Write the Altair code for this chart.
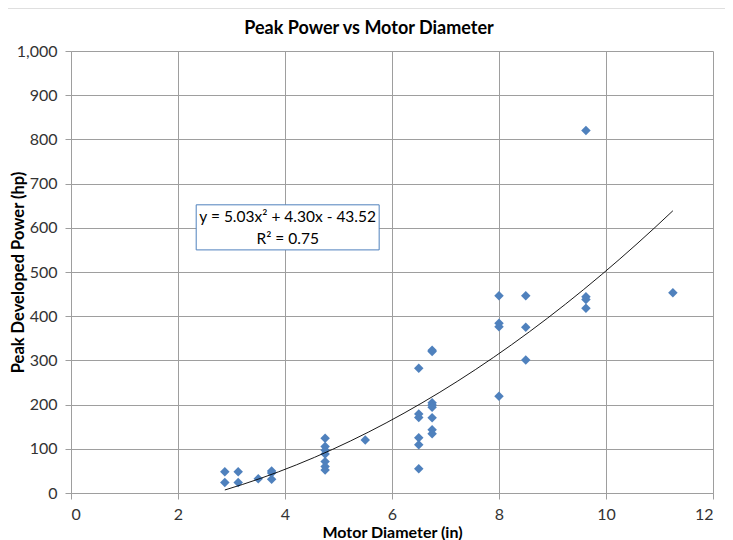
import altair as alt
import pandas as pd

# Motor diameter (in) and peak developed power (hp)
diam = [2.875, 2.875, 3.125, 3.125, 3.5, 3.75, 3.75, 3.75,
        4.75, 4.75, 4.75, 4.75, 4.75, 4.75, 4.75, 5.5,
        6.5, 6.5, 6.5, 6.5, 6.5, 6.5,
        6.75, 6.75, 6.75, 6.75, 6.75, 6.75, 6.75, 6.75,
        8.0, 8.0, 8.0, 8.0,
        8.5, 8.5, 8.5,
        9.625, 9.625, 9.625, 9.625, 11.25]
power = [48, 24, 48, 24, 32, 50, 45, 31,
         124, 105, 97, 88, 71, 60, 52, 120,
         282, 179, 171, 125, 109, 55,
         323, 320, 204, 199, 194, 170, 143, 134,
         446, 384, 376, 219,
         446, 375, 301,
         820, 444, 438, 418, 453]

title_text = ["Peak Power vs Motor Diameter"]

# Trendline annotation box (data units)
box_x = [2.34]
box_x2 = [5.76]
box_y = [652]
box_y2 = [550]
eq_lines = ["y = 5.03x² + 4.30x - 43.52", "R² = 0.75"]
eq_x = [4.05, 4.05]
eq_y = [624, 575]

df = pd.DataFrame({"d": diam, "p": power})
box_df = pd.DataFrame({"x": box_x, "x2": box_x2, "y": box_y, "y2": box_y2})
eq_df = pd.DataFrame({"t": eq_lines, "x": eq_x, "y": eq_y})
title_df = pd.DataFrame({"t": title_text})

FONT = "Lato"
LBL = "#333333"
GRID = "#9e9e9e"

xs = alt.Scale(domain=[0, 12], nice=False)
ys = alt.Scale(domain=[0, 1000], nice=False)

xax = alt.Axis(values=list(range(0, 13, 2)), format="d", title="Motor Diameter (in)", grid=True,
               labelPadding=7, titleY=39, titleBaseline="middle", titleFontSize=16)
yax = alt.Axis(values=list(range(0, 1001, 100)), format=",d", title="Peak Developed Power (hp)",
               grid=True, labelPadding=8, titleX=-53, titleY=221, titleAlign="center",
               titleBaseline="middle")

base = alt.Chart(df)

points = base.mark_point(shape="diamond", filled=True, size=90, color="#4f81bd", opacity=1).encode(
    x=alt.X("d:Q", scale=xs, axis=xax),
    y=alt.Y("p:Q", scale=ys, axis=yax),
)

trend = base.transform_regression("d", "p", method="poly", order=2).mark_line(
    color="#000000", strokeWidth=0.9
).encode(x=alt.X("d:Q", scale=xs, axis=xax), y=alt.Y("p:Q", scale=ys, axis=yax))

box = alt.Chart(box_df).mark_rect(fill="white", stroke="#4f81bd", strokeWidth=1).encode(
    x=alt.X("x:Q", scale=xs, axis=xax), x2="x2:Q",
    y=alt.Y("y:Q", scale=ys, axis=yax), y2="y2:Q"
)

eq = alt.Chart(eq_df).mark_text(font=FONT, fontSize=15.5, color="#000000", align="center",
                                baseline="middle").encode(
    x=alt.X("x:Q", scale=xs, axis=xax), y=alt.Y("y:Q", scale=ys, axis=yax), text="t:N"
)

frame = alt.Chart(box_df).mark_rect(fill=None, stroke="#bfbfbf", strokeWidth=1.2).encode(
    x=alt.value(-69), x2=alt.value(700), y=alt.value(-43), y2=alt.value(520)
)

title = alt.Chart(title_df).mark_text(font=FONT, fontSize=18, fontWeight="bold", color="#000000",
                                      align="center", baseline="middle").encode(
    x=alt.value(298), y=alt.value(-22), text="t:N"
)

chart = alt.layer(frame, points, trend, box, eq, title).properties(
    width=642,
    height=442,
    autosize=alt.AutoSizeParams(type="none"),
    padding={"left": 63, "top": 43, "right": 12, "bottom": 47},
).configure_view(stroke=None).configure_axis(
    labelFont=FONT, labelFontSize=16, labelColor=LBL,
    titleFont=FONT, titleFontSize=16.5, titleFontWeight="bold", titleColor="#000000",
    gridColor=GRID, gridWidth=1, domainColor=GRID, tickColor=GRID, tickSize=6,
    domainWidth=1,
)

chart.save("out.html", embed_options={"renderer": "svg", "actions": False})
